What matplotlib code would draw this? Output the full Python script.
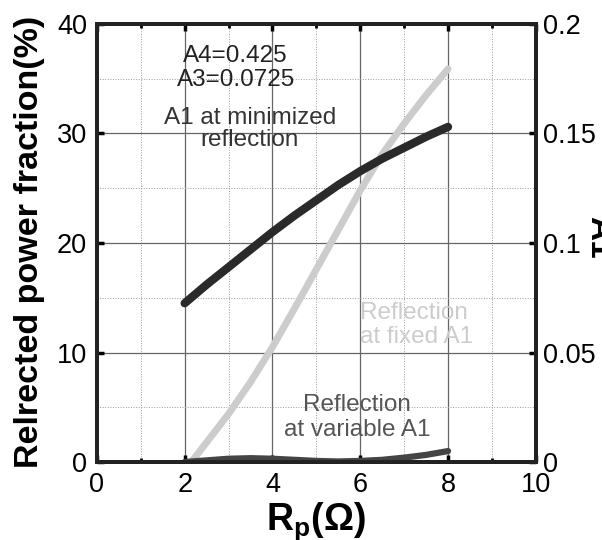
import matplotlib
matplotlib.use("Agg")
import matplotlib.pyplot as plt
from matplotlib.ticker import MultipleLocator

plt.rcParams["font.family"] = ["Liberation Sans", "DejaVu Sans"]
plt.rcParams["mathtext.fontset"] = "custom"
plt.rcParams["mathtext.rm"] = "Liberation Sans"
plt.rcParams["mathtext.bf"] = "Liberation Sans:bold"

# A1 at minimized reflection (right axis)
rp_a1 = [2, 2.5, 3, 3.5, 4, 4.5, 5, 5.5, 6, 6.5, 7, 7.5, 8]
a1_min = [0.0725, 0.081, 0.089, 0.097, 0.105, 0.1125, 0.1195, 0.1265, 0.1328, 0.1385, 0.1435, 0.1485, 0.153]

# reflection at fixed A1 (%)
rp_fixed = [2.15, 2.5, 3, 3.5, 4, 4.5, 5, 5.5, 6, 6.5, 7, 7.5, 8]
refl_fixed = [0.0, 1.8, 4.4, 7.3, 10.5, 14.0, 17.6, 21.2, 24.8, 28.1, 30.9, 33.5, 35.9]

# reflection at variable A1 (%)
rp_var = [2, 2.5, 3, 3.5, 4, 4.5, 5, 5.5, 6, 6.5, 7, 7.5, 8]
refl_var = [0.0, 0.15, 0.3, 0.35, 0.3, 0.2, 0.1, 0.05, 0.1, 0.2, 0.4, 0.65, 1.0]

fig = plt.figure(figsize=(6.02, 5.40), dpi=100)
ax = fig.add_axes([0.161, 0.1444, 0.729, 0.8112])
ax2 = ax.twinx()

ax.set_xlim(0, 10)
ax.set_ylim(0, 40)
ax2.set_ylim(0, 0.2)

ax.xaxis.set_major_locator(MultipleLocator(2))
ax.xaxis.set_minor_locator(MultipleLocator(1))
ax.yaxis.set_major_locator(MultipleLocator(10))
ax.yaxis.set_minor_locator(MultipleLocator(5))
ax2.yaxis.set_major_locator(MultipleLocator(0.05))

ax.grid(True, which="major", color="#666666", linewidth=0.9)
ax.grid(True, which="minor", color="#999999", linewidth=0.7, linestyle=":")
ax.set_axisbelow(True)

ax.plot(rp_fixed, refl_fixed, color="#cccccc", linewidth=5, solid_capstyle="round", zorder=3)
ax.plot(rp_var, refl_var, color="#444444", linewidth=4.5, solid_capstyle="round", zorder=4)
ax2.plot(rp_a1, a1_min, color="#2a2a2a", linewidth=6, solid_capstyle="round", zorder=5)

for a in (ax, ax2):
    for s in a.spines.values():
        s.set_linewidth(2.8)
        s.set_color("#222222")

ax.tick_params(which="major", direction="in", length=5, width=2.5, labelsize=19.5,
               top=True, right=False)
ax.tick_params(axis="x", which="major", pad=7)
ax.tick_params(axis="y", which="major", pad=7)
ax.tick_params(axis="x", which="minor", direction="in", length=3, width=2, top=True)
ax.tick_params(axis="y", which="minor", length=0, right=False)
ax2.tick_params(which="major", direction="in", length=5, width=2.5, labelsize=19.5, pad=5)

ax.set_xticks([0, 2, 4, 6, 8, 10])
ax.set_xticklabels(["0", "2", "4", "6", "8", "10"])
ax.set_yticks([0, 10, 20, 30, 40])
ax.set_yticklabels(["0", "10", "20", "30", "40"])
ax2.set_yticks([0, 0.05, 0.1, 0.15, 0.2])
ax2.set_yticklabels(["0", "0.05", "0.1", "0.15", "0.2"])

ax.set_xlabel(r"$\mathbf{R}_\mathbf{p}$(Ω)", fontsize=27, fontweight="bold", labelpad=2)
ax.set_ylabel("Relrected power fraction(%)", fontsize=24.5, fontweight="bold")
ax.yaxis.set_label_coords(-0.118, 0.502)
fig.text(0.969, 0.56, "A1", rotation=-90, fontsize=24, fontweight="bold",
         ha="left", va="center")

ax.text(3.16, 37.1, "A4=0.425", fontsize=17.5, ha="center", va="center", color="#222222")
ax.text(3.16, 34.9, "A3=0.0725", fontsize=17.5, ha="center", va="center", color="#222222")
ax.text(3.48, 31.4, "A1 at minimized", fontsize=17.5, ha="center", va="center", color="#333333")
ax.text(3.48, 29.4, "reflection", fontsize=17.5, ha="center", va="center", color="#333333")
ax.text(6.0, 13.6, "Reflection", fontsize=17.5, ha="left", va="center", color="#cccccc")
ax.text(6.0, 11.4, "at fixed A1", fontsize=17.5, ha="left", va="center", color="#cccccc")
ax.text(5.93, 5.2, "Reflection", fontsize=17.5, ha="center", va="center", color="#555555")
ax.text(5.93, 2.9, "at variable A1", fontsize=17.5, ha="center", va="center", color="#555555")

fig.savefig("out.png", dpi=100)
